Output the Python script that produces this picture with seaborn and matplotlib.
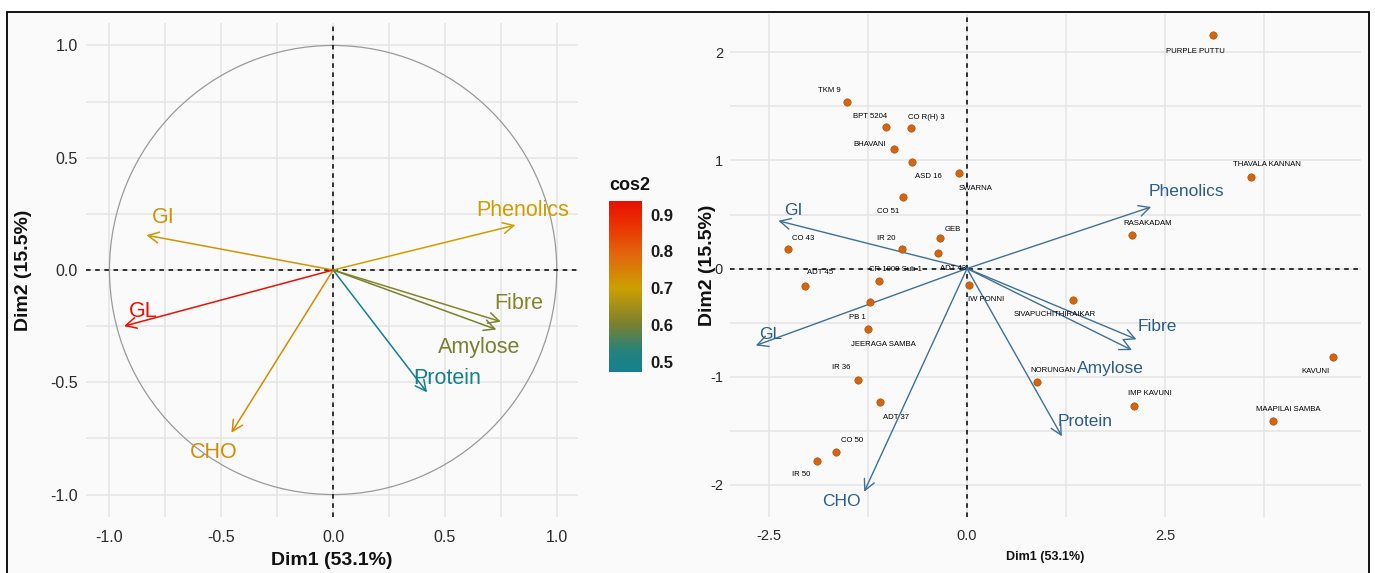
import numpy as np
import pandas as pd
import matplotlib
matplotlib.use("Agg")
import matplotlib.pyplot as plt
import seaborn as sns
from matplotlib.colors import LinearSegmentedColormap, Normalize
from matplotlib.patches import Rectangle, Circle
from matplotlib.ticker import FixedLocator
from matplotlib.cm import ScalarMappable

# ---------------- data ----------------
variables = ["Phenolics", "GI", "GL", "CHO", "Protein", "Fibre", "Amylose"]
var_dim1 = [0.815, -0.835, -0.935, -0.455, 0.42, 0.75, 0.73]
var_dim2 = [0.20, 0.155, -0.25, -0.725, -0.545, -0.23, -0.265]

varieties = ["TKM 9", "BPT 5204", "CO R(H) 3", "BHAVANI", "ASD 16", "SWARNA", "CO 51",
             "CO 43", "IR 20", "GEB", "ADT 43", "ADT 45", "CR 1009 Sub 1", "IW PONNI",
             "PB 1", "JEERAGA SAMBA", "IR 36", "ADT 37", "CO 50", "IR 50",
             "PURPLE PUTTU", "THAVALA KANNAN", "RASAKADAM", "SIVAPUCHITHIRAIKAR",
             "NORUNGAN", "IMP KAVUNI", "KAVUNI", "MAAPILAI SAMBA"]
ind_dim1 = [-1.51, -1.02, -0.71, -0.92, -0.69, -0.10, -0.81,
            -2.26, -0.82, -0.34, -0.37, -2.05, -1.11, 0.02,
            -1.23, -1.25, -1.38, -1.10, -1.65, -1.89,
            3.10, 3.58, 2.08, 1.34,
            0.88, 2.11, 4.62, 3.86]
ind_dim2 = [1.54, 1.31, 1.30, 1.11, 0.99, 0.88, 0.66,
            0.18, 0.18, 0.28, 0.14, -0.16, -0.12, -0.15,
            -0.31, -0.56, -1.03, -1.24, -1.70, -1.78,
            2.16, 0.85, 0.31, -0.29,
            -1.05, -1.27, -0.82, -1.41]

xlab = "Dim1 (53.1%)"
ylab = "Dim2 (15.5%)"
cbar_ticks = [0.5, 0.6, 0.7, 0.8, 0.9]

# ---------------- style (positions, offsets in pixels) ----------------
biplot_scale = 2.85
var_label_nudge_left = {"Phenolics": (7, -15), "GI": (17, -18), "GL": (19, -15),
                        "CHO": (-18, 20), "Protein": (20, -14), "Fibre": (18, -18),
                        "Amylose": (-17, 18)}
var_label_nudge_right = {"Phenolics": (35, -15), "GI": (15, -10), "GL": (15, -11),
                         "CHO": (-23, 10), "Protein": (23, -15), "Fibre": (21, -13),
                         "Amylose": (-22, 18)}
ind_label_nudge = {"TKM 9": (-18, -12), "BPT 5204": (-16, -11), "CO R(H) 3": (16, -11),
                   "BHAVANI": (-24, -4), "ASD 16": (16, 15), "SWARNA": (16, 15),
                   "CO 51": (-15, 14), "CO 43": (15, -11), "IR 20": (-16, -11),
                   "GEB": (13, -9), "ADT 43": (15, 15), "ADT 45": (16, -13),
                   "CR 1009 Sub 1": (16, -12), "IW PONNI": (17, 15), "PB 1": (-12, 15),
                   "JEERAGA SAMBA": (15, 15), "IR 36": (-16, -12), "ADT 37": (16, 15),
                   "CO 50": (16, -12), "IR 50": (-16, 14), "PURPLE PUTTU": (-17, 16),
                   "THAVALA KANNAN": (16, -12), "RASAKADAM": (16, -12),
                   "SIVAPUCHITHIRAIKAR": (-18, 15), "NORUNGAN": (16, -11),
                   "IMP KAVUNI": (16, -12), "KAVUNI": (-18, 14), "MAAPILAI SAMBA": (15, -11)}

sns.set_theme(style="white")
plt.rcParams["font.family"] = ["Liberation Sans", "DejaVu Sans"]
NARROW = ["Liberation Sans Narrow", "Liberation Sans", "DejaVu Sans"]

W, H = 1375, 573
fig = plt.figure(figsize=(W / 100, H / 100), dpi=100)
fig.patch.set_facecolor("white")

# outer frame
frame = Rectangle((7 / W, -0.02), (1369 - 7) / W, 1 - 12 / H + 0.02,
                  transform=fig.transFigure, facecolor="#FAFAFA",
                  edgecolor="black", linewidth=1.3, zorder=-10)
fig.patches.append(frame)

def px_axes(x0, y0, x1, y1):
    return fig.add_axes([x0 / W, 1 - y1 / H, (x1 - x0) / W, (y1 - y0) / H])

grid_col = "#E4E4E4"
dash = (0, (3, 3))

# ---------------- left panel: variables ----------------
var_df = pd.DataFrame({"variable": variables, "Dim1": var_dim1, "Dim2": var_dim2})
var_df["cos2"] = var_df["Dim1"] ** 2 + var_df["Dim2"] ** 2

cmap = LinearSegmentedColormap.from_list(
    "cos2", [(0.0, "#14808F"), (0.12, "#24827C"), (0.28, "#7A8030"),
             (0.49, "#CBA000"), (0.70, "#E2620C"), (0.86, "#EA3200"), (1.0, "#E81000")])
norm = Normalize(var_df["cos2"].min(), var_df["cos2"].max())

ax1 = px_axes(86, 23, 578, 517)
ax1.set_facecolor("none")
ax1.set_xlim(-1.105, 1.095)
ax1.set_ylim(-1.1, 1.1)
ax1.xaxis.set_major_locator(FixedLocator([-1, -0.5, 0, 0.5, 1]))
ax1.yaxis.set_major_locator(FixedLocator([-1, -0.5, 0, 0.5, 1]))
ax1.xaxis.set_minor_locator(FixedLocator([-0.75, -0.25, 0.25, 0.75]))
ax1.yaxis.set_minor_locator(FixedLocator([-0.75, -0.25, 0.25, 0.75]))
ax1.set_xticklabels(["-1.0", "-0.5", "0.0", "0.5", "1.0"])
ax1.set_yticklabels(["-1.0", "-0.5", "0.0", "0.5", "1.0"])
ax1.grid(True, which="both", color=grid_col, linewidth=1.1)
ax1.set_axisbelow(True)
for s in ax1.spines.values():
    s.set_visible(False)
ax1.tick_params(which="both", length=0, labelsize=11.5, labelcolor="#2A2A2A", pad=6)
ax1.tick_params(axis="x", pad=9)

ax1.add_patch(Circle((0, 0), 1, fill=False, edgecolor="#9A9A9A", linewidth=0.9, zorder=1))
ax1.axhline(0, color="black", linestyle=dash, linewidth=1.1, zorder=2)
ax1.axvline(0, color="black", linestyle=dash, linewidth=1.1, zorder=2)

for _, r in var_df.iterrows():
    c = cmap(norm(r["cos2"]))
    ax1.annotate("", xy=(r["Dim1"], r["Dim2"]), xytext=(0, 0),
                 arrowprops=dict(arrowstyle="->,head_length=0.55,head_width=0.28",
                                 color=c, lw=1.1, shrinkA=0, shrinkB=0, mutation_scale=14),
                 zorder=3)
    dx, dy = var_label_nudge_left[r["variable"]]
    ax1.annotate(r["variable"], xy=(r["Dim1"], r["Dim2"]), xytext=(dx, -dy),
                 textcoords="offset pixels", ha="center", va="center",
                 fontsize=15.5, color=c, zorder=4)

ax1.set_xlabel(xlab, fontsize=14, fontweight="bold", color="#111111")
ax1.set_ylabel(ylab, fontsize=14, fontweight="bold", color="#111111")
ax1.xaxis.set_label_coords(0.5, -0.07)
ax1.yaxis.set_label_coords(-0.11, 0.5)

# colorbar
cax = px_axes(609, 201, 642, 372)
cb = fig.colorbar(ScalarMappable(norm=norm, cmap=cmap), cax=cax, ticks=cbar_ticks)
cb.outline.set_visible(False)
cax.yaxis.set_ticks_position("both")
cax.tick_params(axis="y", direction="in", length=5, width=1.3, color="#F4F4F4",
                labelsize=12, labelcolor="#1A1A1A", pad=6, labelright=True, labelleft=False)
for t in cax.get_yticklabels():
    t.set_fontweight("bold")
cax.set_title("cos2", loc="left", fontsize=13, fontweight="bold", pad=8, color="#111111")

# ---------------- right panel: biplot ----------------
ind_df = pd.DataFrame({"name": varieties, "Dim1": ind_dim1, "Dim2": ind_dim2})

ax2 = px_axes(730, 14, 1361, 517)
ax2.set_facecolor("none")
ax2.set_xlim(-2.99, 4.97)
ax2.set_ylim(-2.30, 2.356)
ax2.xaxis.set_major_locator(FixedLocator([-2.5, 0, 2.5]))
ax2.xaxis.set_minor_locator(FixedLocator([-1.25, 1.25, 3.75]))
ax2.yaxis.set_major_locator(FixedLocator([-2, -1, 0, 1, 2]))
ax2.yaxis.set_minor_locator(FixedLocator([-1.5, -0.5, 0.5, 1.5]))
ax2.set_xticklabels(["-2.5", "0.0", "2.5"])
ax2.set_yticklabels(["-2", "-1", "0", "1", "2"])
ax2.grid(True, which="both", color=grid_col, linewidth=1.1)
ax2.set_axisbelow(True)
for s in ax2.spines.values():
    s.set_visible(False)
ax2.tick_params(which="both", length=0, labelsize=10.5, labelcolor="#2A2A2A", pad=5)
ax2.tick_params(axis="x", pad=9)

ax2.axhline(0, color="black", linestyle=dash, linewidth=1.1, zorder=2)
ax2.axvline(0, color="black", linestyle=dash, linewidth=1.1, zorder=2)

sns.scatterplot(data=ind_df, x="Dim1", y="Dim2", ax=ax2, color="#D2650F",
                edgecolor="#B3520A", linewidth=0.5, s=28, legend=False, zorder=4)
for _, r in ind_df.iterrows():
    dx, dy = ind_label_nudge[r["name"]]
    ax2.annotate(r["name"], xy=(r["Dim1"], r["Dim2"]), xytext=(dx, -dy),
                 textcoords="offset pixels", ha="center", va="center",
                 fontsize=5.6, color="#000000", zorder=5)

arrow_col = "#3F7098"
label_col = "#2C5C8A"
for _, r in var_df.iterrows():
    tx, ty = r["Dim1"] * biplot_scale, r["Dim2"] * biplot_scale
    ax2.annotate("", xy=(tx, ty), xytext=(0, 0),
                 arrowprops=dict(arrowstyle="->,head_length=0.55,head_width=0.28",
                                 color=arrow_col, lw=1.0, shrinkA=0, shrinkB=0,
                                 mutation_scale=14), zorder=3)
    dx, dy = var_label_nudge_right[r["variable"]]
    ax2.annotate(r["variable"], xy=(tx, ty), xytext=(dx, -dy),
                 textcoords="offset pixels", ha="center", va="center",
                 fontsize=12.5, color=label_col, zorder=4)

ax2.set_xlabel(xlab, fontsize=9, fontweight="bold", color="#111111")
ax2.set_ylabel(ylab, fontsize=14, fontweight="bold", color="#111111")
ax2.xaxis.set_label_coords(0.5, -0.067)
ax2.yaxis.set_label_coords(-0.022, 0.5)

fig.savefig("out.png", dpi=100, facecolor="white")
